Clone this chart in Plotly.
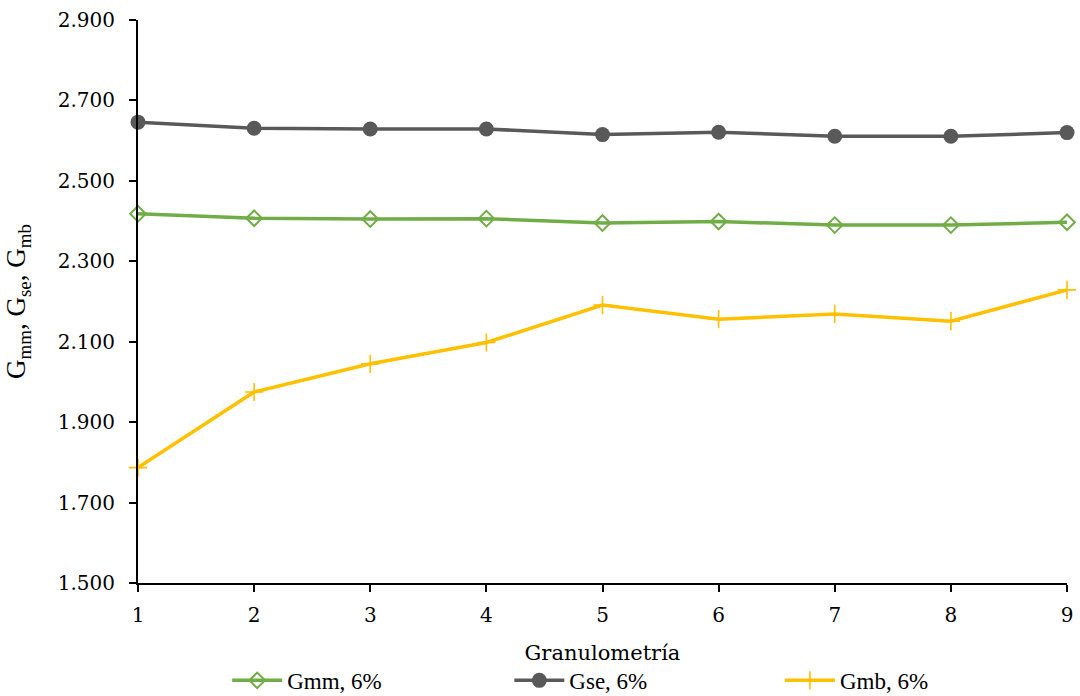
import plotly.graph_objects as go

granulometria = [1, 2, 3, 4, 5, 6, 7, 8, 9]
gmm = [2.418, 2.407, 2.405, 2.406, 2.395, 2.399, 2.390, 2.390, 2.397]
gse = [2.646, 2.631, 2.629, 2.629, 2.615, 2.621, 2.611, 2.611, 2.620]
gmb = [1.787, 1.975, 2.045, 2.098, 2.191, 2.156, 2.169, 2.151, 2.229]
y_ticks = [1.5, 1.7, 1.9, 2.1, 2.3, 2.5, 2.7, 2.9]

fig = go.Figure()
fig.add_trace(go.Scatter(
    x=granulometria, y=gmm, name="Gmm, 6%", mode="lines+markers",
    line=dict(color="#70AD47", width=3.5),
    marker=dict(symbol="diamond-open", size=12, color="#70AD47", line=dict(width=2)),
    cliponaxis=False, legend="legend"))
fig.add_trace(go.Scatter(
    x=granulometria, y=gse, name="Gse, 6%", mode="lines+markers",
    line=dict(color="#595959", width=3.5),
    marker=dict(symbol="circle", size=15, color="#595959"),
    cliponaxis=False, legend="legend2"))
fig.add_trace(go.Scatter(
    x=granulometria, y=gmb, name="Gmb, 6%", mode="lines+markers",
    line=dict(color="#FFC000", width=3.5),
    marker=dict(symbol="cross-thin-open", size=13, color="#FFC000",
                line=dict(width=1.6, color="#FFC000")),
    cliponaxis=False, legend="legend3"))

leg_common = dict(orientation="h", y=-0.173, yanchor="middle", xanchor="left",
                  font=dict(family="Liberation Serif", size=23), itemwidth=50,
                  bgcolor="rgba(0,0,0,0)")
fig.update_layout(
    width=1080, height=696,
    margin=dict(l=138, r=13, t=20, b=113, autoexpand=False),
    paper_bgcolor="white", plot_bgcolor="white",
    font=dict(family="DejaVu Serif", size=20, color="black"),
    showlegend=True,
    legend=dict(x=0.096, **leg_common),
    legend2=dict(x=0.3997, **leg_common),
    legend3=dict(x=0.691, **leg_common),
)
fig.update_xaxes(
    range=[1, 9], tickvals=granulometria, ticks="outside", ticklen=7, tickwidth=2,
    tickcolor="black", showline=True, linecolor="black", linewidth=2,
    showgrid=False, zeroline=False, ticklabelstandoff=6,
    title=dict(text="Granulometría", font=dict(family="DejaVu Serif", size=21), standoff=19),
)
fig.update_yaxes(
    range=[1.5, 2.9], tickvals=y_ticks, tickformat=".3f", ticks="outside", ticklen=7,
    tickwidth=2, tickcolor="black", showline=True, linecolor="black", linewidth=2,
    showgrid=False, zeroline=False, ticklabelstandoff=10,
    title=dict(text="G<sub>mm</sub>, G<sub>se</sub>, G<sub>mb</sub>",
               font=dict(family="Liberation Serif", size=27), standoff=24),
)
fig.write_html("out.html", config={"displayModeBar": False},
               post_script="document.body.style.margin='0px';")
